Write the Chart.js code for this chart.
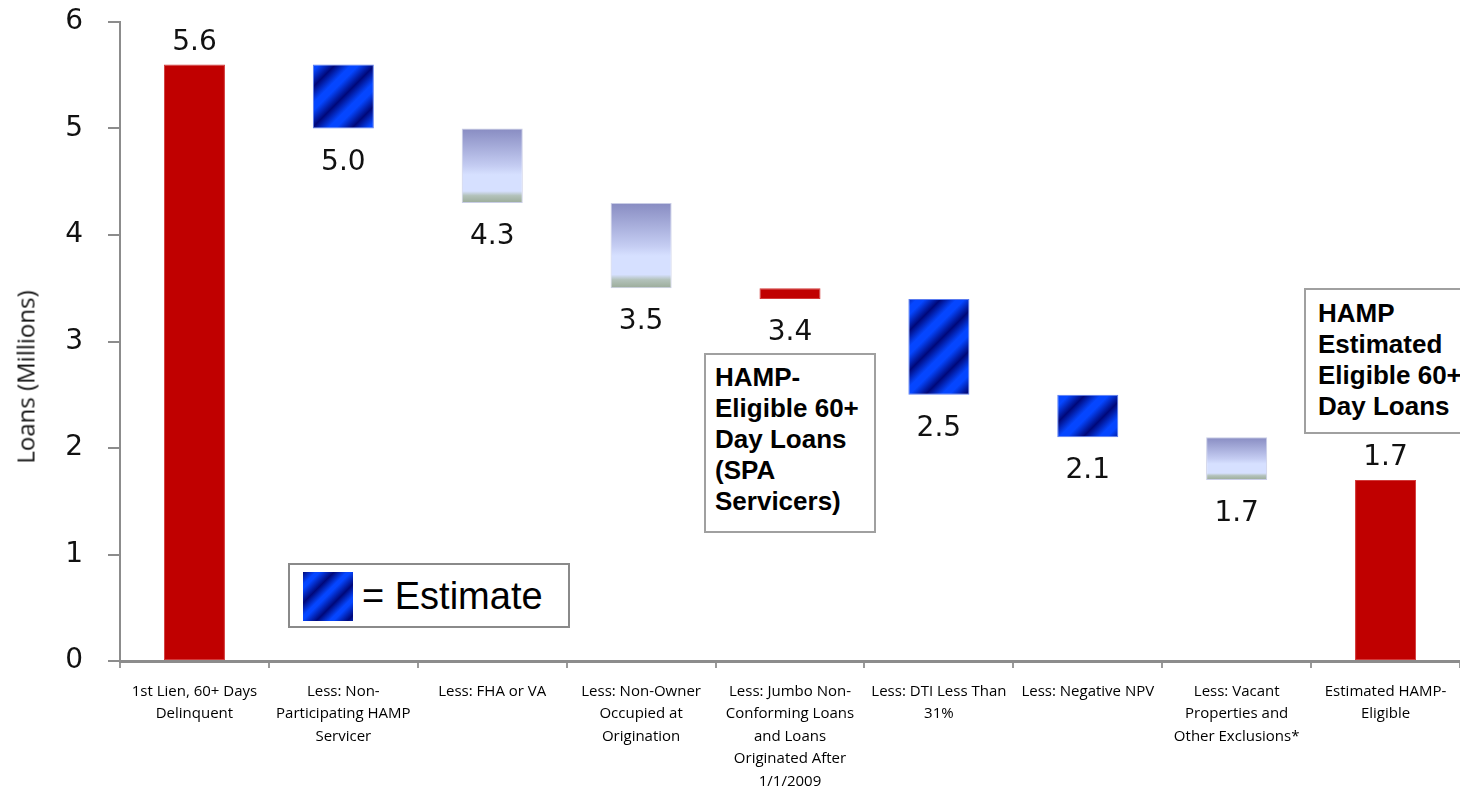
<!DOCTYPE html>
<html>
<head>
<meta charset="utf-8">
<script src="https://cdn.jsdelivr.net/npm/chart.js@4.4.0/dist/chart.umd.min.js"></script>
<style>
  body { margin: 0; background: #fff; overflow: hidden; }
  #wrap { position: relative; width: 1460px; height: 788px; }
  .note {
    position: absolute; background: #fff; border: 2px solid #a0a0a0;
    font: bold 26px/31px "Liberation Sans", Arial, sans-serif; color: #000;
    box-sizing: border-box;
  }
  #legend {
    position: absolute; left: 288px; top: 563px; width: 282px; height: 65px;
    border: 2px solid #8a8a8a; background: #fff; box-sizing: border-box;
  }
  #legend .sw {
    position: absolute; left: 13px; top: 7px; width: 50px; height: 49px;
    background: repeating-linear-gradient(135deg, #00087a 0px, #0546ff 9px, #0546ff 12px, #00087a 22px);
  }
  #legend .txt {
    position: absolute; left: 72px; top: 8px;
    font: 38px/46px "Liberation Sans", Arial, sans-serif; color: #000;
  }
  #ytitle {
    position: absolute; left: 25px; top: 377px; white-space: nowrap;
    transform: translate(-50%, -50%) rotate(-90deg);
    font: 24px "Open Sans", sans-serif; color: #111;
  }
</style>
</head>
<body>
<div id="wrap">
  <canvas id="chart_hamp" width="1460" height="788"></canvas>
  <div id="ytitle">Loans (Millions)</div>
  <div id="legend"><div class="sw"></div><div class="txt">= Estimate</div></div>
  <div class="note" style="left:704px; top:353px; width:172px; height:180px; padding:7px 0 0 9px;">HAMP-<br>Eligible 60+<br>Day Loans<br>(SPA<br>Servicers)</div>
  <div class="note" style="left:1304px; top:288px; width:200px; height:146px; padding:8px 0 0 12px;">HAMP<br>Estimated<br>Eligible 60+<br>Day Loans</div>
</div>
<script>
var categories = [
    ['1st Lien, 60+ Days', 'Delinquent'],
    ['Less: Non-', 'Participating HAMP', 'Servicer'],
    ['Less: FHA or VA'],
    ['Less: Non-Owner', 'Occupied at', 'Origination'],
    ['Less: Jumbo Non-', 'Conforming Loans', 'and Loans', 'Originated After', '1/1/2009'],
    ['Less: DTI Less Than', '31%'],
    ['Less: Negative NPV'],
    ['Less: Vacant', 'Properties and', 'Other Exclusions*'],
    ['Estimated HAMP-', 'Eligible']
]
var barLow  = [0,   5.0, 4.3, 3.5, 3.4, 2.5, 2.1, 1.7, 0]
var barHigh = [5.6, 5.6, 5.0, 4.3, 3.5, 3.4, 2.5, 2.1, 1.7]
// total = red bar, estimate = blue hatch, excl = shaded bar
var barType = ['total', 'estimate', 'excl', 'excl', 'total', 'estimate', 'estimate', 'excl', 'total']
var yTicks = [0, 1, 2, 3, 4, 5, 6]

var cores = { total: '#c00000', border: { total: '#d23a3a', estimate: '#5b7cf0', excl: '#c9cde6' } }

// diagonal stripe tile for the estimate bars
var hatch = (function () {
    var s = 40
    var c = document.createElement('canvas')
    c.width = s; c.height = s
    var g = c.getContext('2d')
    var lg = g.createLinearGradient(0, 0, s, s)
    var stops = [[0, '#00087a'], [0.2, '#0546ff'], [0.3, '#0546ff'], [0.5, '#00087a'],
                 [0.7, '#0546ff'], [0.8, '#0546ff'], [1, '#00087a']]
    stops.forEach(function (st) { lg.addColorStop(st[0], st[1]) })
    g.fillStyle = lg
    g.fillRect(0, 0, s, s)
    return c
})()

function barFill(context) {
    var chart = context.chart
    var i = context.dataIndex
    var kind = barType[i]
    if (kind === 'total') return cores.total
    if (kind === 'estimate') return chart.ctx.createPattern(hatch, 'repeat')
    if (!chart.chartArea) return '#c9d2f5'
    var y = chart.scales.y
    var top = y.getPixelForValue(barHigh[i])
    var bot = y.getPixelForValue(barLow[i])
    var gr = chart.ctx.createLinearGradient(0, top, 0, bot)
    gr.addColorStop(0, '#888cc2')
    gr.addColorStop(0.5, '#c4ccf2')
    gr.addColorStop(0.62, '#d6e0ff')
    gr.addColorStop(0.84, '#d6e0ff')
    gr.addColorStop(0.9, '#b3c2bb')
    gr.addColorStop(1, '#9aab98')
    return gr
}

// value labels: totals on top, steps under the bar
var valueLabels = {
    id: 'valueLabels',
    afterDatasetsDraw: function (chart) {
        var ctx = chart.ctx
        var meta = chart.getDatasetMeta(0)
        ctx.save()
        ctx.font = '28px "DejaVu Sans", Verdana, sans-serif'
        ctx.fillStyle = '#111'
        ctx.textAlign = 'center'
        ctx.textBaseline = 'alphabetic'
        meta.data.forEach(function (bar, i) {
            var top = Math.min(bar.y, bar.base)
            var bot = Math.max(bar.y, bar.base)
            if (barType[i] === 'total' && barLow[i] === 0) {
                ctx.fillText(barHigh[i].toFixed(1), bar.x, top - 15)
            } else {
                ctx.fillText(barLow[i].toFixed(1), bar.x, bot + 41)
            }
        })
        ctx.restore()
    }
}

var ctx = document.getElementById('chart_hamp')

var chartBar = new Chart(ctx, {
    type: 'bar',
    data: {
        labels: categories,
        datasets: [{
            data: barLow.map(function (v, i) { return [v, barHigh[i]] }),
            backgroundColor: barFill,
            borderColor: function (c) { return cores.border[barType[c.dataIndex]] },
            borderWidth: 1,
            borderSkipped: false,
            barPercentage: 0.41,
            categoryPercentage: 1
        }]
    },
    plugins: [valueLabels],
    options: {
        responsive: false,
        animation: false,
        events: [],
        layout: { padding: { top: 22, right: 0, left: 0, bottom: 0 } },
        plugins: {
            legend: { display: false },
            tooltip: { enabled: false }
        },
        scales: {
            y: {
                min: 0,
                max: 6,
                afterBuildTicks: function (scale) {
                    scale.ticks = yTicks.map(function (v) { return { value: v } })
                },
                afterFit: function (scale) {
                    scale.width = 120
                    scale.paddingTop = 0
                    scale.paddingBottom = 0
                },
                border: { display: true, color: '#8c8c8c', width: 2 },
                grid: { drawOnChartArea: false, drawTicks: true, tickLength: 12, color: '#8c8c8c', lineWidth: 2 },
                ticks: {
                    padding: 25,
                    color: '#111',
                    font: { family: '"DejaVu Sans", Verdana, sans-serif', size: 28 }
                }
            },
            x: {
                afterFit: function (scale) {
                    scale.height = 127
                    scale.paddingLeft = 0
                    scale.paddingRight = 0
                },
                border: { display: true, color: '#8c8c8c', width: 3 },
                grid: { offset: true, drawOnChartArea: false, drawTicks: true, tickLength: 7, color: '#9a9a9a', lineWidth: 2 },
                ticks: {
                    autoSkip: false,
                    maxRotation: 0,
                    minRotation: 0,
                    padding: 12,
                    color: '#000',
                    font: { family: '"Open Sans", sans-serif', size: 15, lineHeight: 1.5 }
                }
            }
        }
    }
})
</script>
</body>
</html>
